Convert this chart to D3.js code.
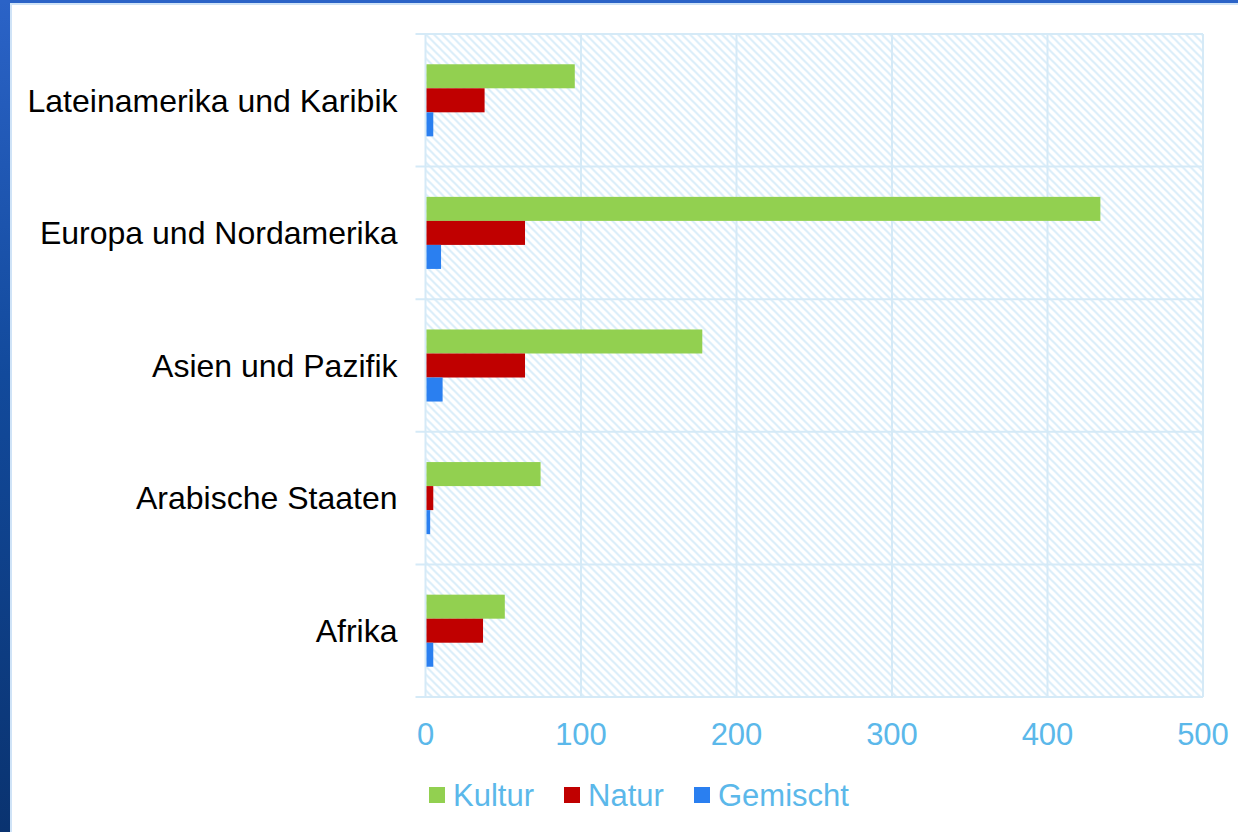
<!DOCTYPE html>
<html>
<head>
<meta charset="utf-8">
<script src="https://cdn.jsdelivr.net/npm/d3@7"></script>
<style>
  body { margin: 0; background: #fff; }
  svg { display: block; font-family: "Liberation Sans", Arial, sans-serif; }
</style>
</head>
<body>
<div id="chart"></div>
<script>
// data
const regions = ["Lateinamerika und Karibik", "Europa und Nordamerika", "Asien und Pazifik", "Arabische Staaten", "Afrika"];
const seriesNames = ["Kultur", "Natur", "Gemischt"];
const kultur = [96, 434, 178, 74, 51];
const natur = [38, 64, 64, 5, 37];
const gemischt = [5, 10, 11, 3, 5];
const xTicks = [0, 100, 200, 300, 400, 500];
const colors = ["#92d050", "#c00000", "#2a7ff0"];

const W = 1238, H = 832;
const margin = {top: 34, right: 35, bottom: 135, left: 425.5};
const width = 1203 - margin.left,
      height = 697 - margin.top;

const svg = d3.select("#chart").append("svg")
    .attr("width", W)
    .attr("height", H);

// frame: blue slide edge on left and top
const defs = svg.append("defs");
const grad = defs.append("linearGradient")
    .attr("id", "edge").attr("x1", 0).attr("y1", 0).attr("x2", 0).attr("y2", 1);
grad.append("stop").attr("offset", "0%").attr("stop-color", "#2b63c7");
grad.append("stop").attr("offset", "45%").attr("stop-color", "#124a9c");
grad.append("stop").attr("offset", "100%").attr("stop-color", "#0a3370");

const hatch = defs.append("pattern")
    .attr("id", "hatch")
    .attr("patternUnits", "userSpaceOnUse")
    .attr("width", 8).attr("height", 8);
hatch.append("path")
    .attr("d", "M-2,-2 L10,10 M-2,6 L2,10 M6,-2 L10,2")
    .attr("stroke", "#d9edf9")
    .attr("stroke-width", 2);

svg.append("rect").attr("x", 0).attr("y", 0).attr("width", 10).attr("height", H).attr("fill", "url(#edge)");
svg.append("rect").attr("x", 0).attr("y", 0).attr("width", W).attr("height", 3).attr("fill", "#2b63c7");
svg.append("rect").attr("x", 10).attr("y", 3).attr("width", W).attr("height", 2).attr("fill", "#cfe3f7");
svg.append("rect").attr("x", 10).attr("y", 3).attr("width", 2).attr("height", H).attr("fill", "#cfe3f7");

const g = svg.append("g")
    .attr("transform", `translate(${margin.left},${margin.top})`);

const x = d3.scaleLinear()
    .domain([0, 500])
    .range([0, width]);

const y = d3.scaleBand()
    .domain(regions)
    .range([0, height])
    .paddingInner(0)
    .paddingOuter(0);

const y1 = d3.scaleBand()
    .domain(seriesNames)
    .range([0, y.bandwidth()])
    .paddingOuter(1.26);

// hatched plot area
g.append("rect")
    .attr("width", width)
    .attr("height", height)
    .attr("fill", "url(#hatch)");

const gridColor = "#d5eaf7";

// vertical grid
g.append("g")
    .selectAll("line")
    .data(xTicks)
    .enter()
    .append("line")
    .attr("x1", d => x(d)).attr("x2", d => x(d))
    .attr("y1", 0).attr("y2", height)
    .attr("stroke", gridColor)
    .attr("stroke-width", 2);

// horizontal grid at band edges
const edges = regions.map(r => y(r)).concat([height]);
g.append("g")
    .selectAll("line")
    .data(edges)
    .enter()
    .append("line")
    .attr("x1", -10).attr("x2", width)
    .attr("y1", d => d).attr("y2", d => d)
    .attr("stroke", gridColor)
    .attr("stroke-width", 2);

// bars
const rows = regions.map((r, i) => ({region: r, values: [kultur[i], natur[i], gemischt[i]]}));

g.append("g")
    .selectAll("g")
    .data(rows)
    .enter()
    .append("g")
    .attr("transform", d => `translate(0,${y(d.region)})`)
    .selectAll("rect")
    .data(d => d.values.map((v, j) => ({name: seriesNames[j], value: v, color: colors[j]})))
    .enter()
    .append("rect")
    .attr("x", 1)
    .attr("y", d => y1(d.name))
    .attr("width", d => x(d.value) - 1)
    .attr("height", y1.bandwidth())
    .attr("fill", d => d.color);

// category labels
g.append("g")
    .selectAll("text")
    .data(regions)
    .enter()
    .append("text")
    .attr("x", -28)
    .attr("y", d => y(d) + y.bandwidth() / 2)
    .attr("dy", "0.35em")
    .attr("text-anchor", "end")
    .style("font-size", "32px")
    .attr("fill", "#000")
    .text(d => d);

// x tick labels
g.append("g")
    .selectAll("text")
    .data(xTicks)
    .enter()
    .append("text")
    .attr("x", d => x(d))
    .attr("y", height + 48)
    .attr("text-anchor", "middle")
    .style("font-size", "31px")
    .attr("fill", "#5bb8ea")
    .text(d => d);

// legend
const legendX = [429, 564, 694];
const legend = svg.append("g")
    .selectAll("g")
    .data(seriesNames)
    .enter()
    .append("g")
    .attr("transform", (d, i) => `translate(${legendX[i]},787)`);

legend.append("rect")
    .attr("width", 16)
    .attr("height", 16)
    .attr("fill", (d, i) => colors[i]);

legend.append("text")
    .attr("x", 24)
    .attr("y", 8)
    .attr("dy", "0.35em")
    .style("font-size", "31px")
    .attr("fill", "#5bb8ea")
    .text(d => d);
</script>
</body>
</html>
